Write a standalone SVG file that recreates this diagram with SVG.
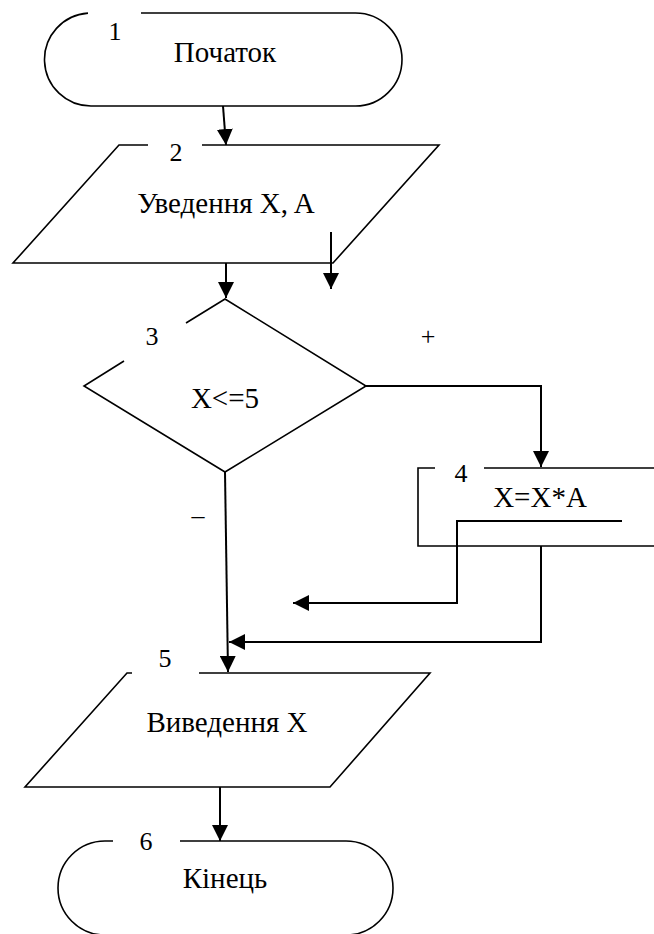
<svg xmlns="http://www.w3.org/2000/svg" width="654" height="934" viewBox="0 0 654 934">
<style>
.shape{fill:none;stroke:#000;stroke-width:1.6}
.conn{fill:none;stroke:#000;stroke-width:2}
.t{font-family:"Liberation Serif","Times New Roman",serif;font-size:29px;fill:#000;text-anchor:middle}
.n{font-family:"Liberation Serif","Times New Roman",serif;font-size:26px;fill:#000;text-anchor:middle}
</style>
<defs>
<marker id="arr" markerUnits="userSpaceOnUse" markerWidth="16" markerHeight="16" viewBox="0 0 15 15" refX="15" refY="7.5" orient="auto">
<path d="M0,0 L15,7.5 L0,15 z" fill="#000"/>
</marker>
</defs>
<rect width="654" height="934" fill="#fff"/>
<g id="node1">
<path class="shape" d="M141,13 L355.5,13 A46.5,46.5 0 0 1 355.5,106 L91.5,106 A46.5,46.5 0 0 1 88,13.1"/>
<text class="n" x="115" y="40">1</text>
<text class="t" x="225" y="62">Початок</text>
</g>
<g id="node2">
<path class="shape" d="M202,145 L439,145 L333,263 L13,263 L119,145 L148,145"/>
<text class="n" x="176" y="161">2</text>
<text class="t" x="226" y="213">Уведення X, A</text>
</g>
<g id="node3">
<path class="shape" d="M186,323 L225,299 L366,386 L225,472 L84,386 L124,361"/>
<text class="n" x="152" y="345">3</text>
<text class="t" x="225" y="408">X&lt;=5</text>
</g>
<g id="node4">
<path class="shape" d="M435,468 L418,468 L418,546 L656,546 M484,468 L656,468"/>
<text class="n" x="461" y="482">4</text>
<text class="t" x="540" y="507">X=X*A</text>
</g>
<g id="node5">
<path class="shape" d="M199,673 L430,673 L330,787 L25,787 L127,673 L132,673"/>
<text class="n" x="165" y="667">5</text>
<text class="t" x="227" y="732">Виведення X</text>
</g>
<g id="node6">
<path class="shape" d="M180,841 L346,841 A47,47 0 0 1 346,935 L105,935 A47,47 0 0 1 105,841 L113,841"/>
<text class="n" x="146" y="850">6</text>
<text class="t" x="225" y="888">Кінець</text>
</g>
<g id="labels">
<text class="n" x="428" y="345">+</text>
<text class="n" x="198" y="524" fill="#555">–</text>
</g>
<g id="connectors">
<path class="conn" marker-end="url(#arr)" d="M223,106 L226,145"/>
<path class="conn" marker-end="url(#arr)" d="M226,263 L226,298"/>
<path class="conn" marker-end="url(#arr)" d="M331,232 L331,289"/>
<path class="conn" marker-end="url(#arr)" d="M366,386 L541,386 L541,467"/>
<path class="conn" marker-end="url(#arr)" d="M622,521 L457,521 L457,603 L293,603"/>
<path class="conn" marker-end="url(#arr)" d="M541,546 L541,642 L229,642"/>
<path class="conn" marker-end="url(#arr)" d="M225,472 L228,672"/>
<path class="conn" marker-end="url(#arr)" d="M220,787 L220,841"/>
</g>
</svg>
